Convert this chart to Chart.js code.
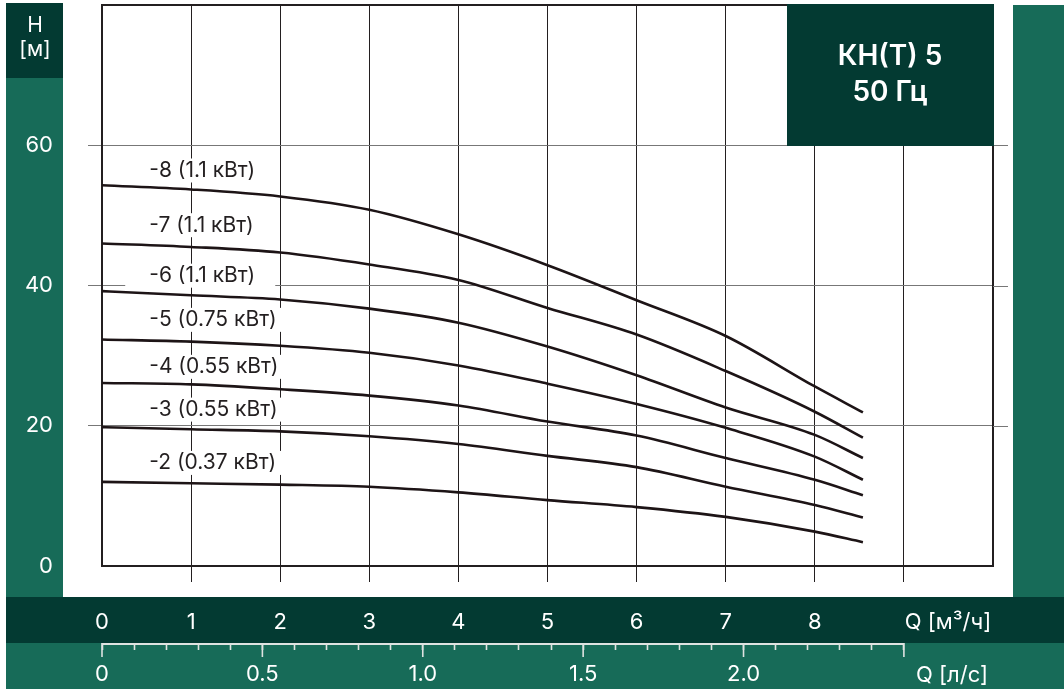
<!DOCTYPE html>
<html>
<head>
<meta charset="utf-8">
<script src="https://cdn.jsdelivr.net/npm/chart.js@4.4.1/dist/chart.umd.min.js"></script>
<style>
  html, body { margin: 0; padding: 0; background: #fff; }
  #wrap { width: 1064px; height: 689px; position: relative; }
</style>
</head>
<body>
<div id="wrap"><canvas id="pumpChart"></canvas></div>
<script>
// Q [м³/ч] точки, в которых сняты кривые
const flowM3h = [0, 1, 2, 3, 4, 5, 6, 7, 8, 8.54];

// H [м] для каждой модели
const head8 = [54.3, 53.7, 52.7, 50.8, 47.3, 42.9, 37.9, 32.8, 25.6, 21.9];
const head7 = [46.0, 45.5, 44.7, 43.0, 40.8, 36.8, 33.0, 27.8, 22.0, 18.3];
const head6 = [39.2, 38.6, 38.0, 36.7, 34.7, 31.3, 27.2, 22.6, 18.7, 15.4];
const head5 = [32.3, 32.0, 31.4, 30.4, 28.6, 26.0, 23.1, 19.7, 15.6, 12.3];
const head4 = [26.1, 25.9, 25.2, 24.3, 22.9, 20.6, 18.6, 15.4, 12.3, 10.1];
const head3 = [19.8, 19.5, 19.2, 18.5, 17.4, 15.7, 14.1, 11.3, 8.7, 6.9];
const head2 = [12.0, 11.8, 11.6, 11.3, 10.5, 9.4, 8.4, 7.0, 4.9, 3.4];

const seriesNames = ["-8 (1.1 кВт)", "-7 (1.1 кВт)", "-6 (1.1 кВт)", "-5 (0.75 кВт)",
  "-4 (0.55 кВт)", "-3 (0.55 кВт)", "-2 (0.37 кВт)"];
const seriesHeads = [head8, head7, head6, head5, head4, head3, head2];

// подписи кривых: Q левого края текста и H центра строки
const labelQ = 0.53;
const labelH = [56.4, 48.6, 41.4, 35.1, 28.4, 22.3, 14.7];

// шкала л/с: подписанные значения
const lsLabels = [0, 0.5, 1.0, 1.5, 2.0];
const lsLast = 2.5;

const titleLines = ["КН(Т) 5", "50 Гц"];

const DARK = "#033a32";
const GREEN = "#176b58";
const INK = "#1d1416";
const FONT = "Inter, 'Noto Sans', sans-serif";

const isMult = (v, step) => Math.abs(v / step - Math.round(v / step)) < 1e-6;

// отступы подписей не должны сдвигать поле графика
const noPad = s => {
  s.paddingTop = 0;
  s.paddingBottom = 0;
  s.paddingLeft = 0;
  s.paddingRight = 0;
};

const panels = {
  id: "panels",
  beforeDraw(chart) {
    const c = chart.ctx;
    c.save();
    c.fillStyle = "#fff";
    c.fillRect(0, 0, chart.width, chart.height);
    c.fillStyle = DARK;
    c.fillRect(6, 3, 57, 75);
    c.fillStyle = GREEN;
    c.fillRect(6, 78, 57, 519);
    c.fillRect(1013, 5, 51, 592);
    c.fillStyle = DARK;
    c.fillRect(6, 597, 1058, 46);
    c.fillStyle = GREEN;
    c.fillRect(6, 643, 1058, 46);
    c.fillStyle = "#fff";
    c.font = `21px ${FONT}`;
    c.textAlign = "center";
    c.textBaseline = "middle";
    c.fillText("H", 35, 26);
    c.fillText("[м]", 35, 50);
    c.restore();
  },
  beforeDatasetsDraw(chart) {
    const c = chart.ctx;
    const { x, y } = chart.scales;
    const area = chart.chartArea;
    c.save();
    // рамка поля графика
    c.strokeStyle = "#231f20";
    c.lineWidth = 2;
    c.strokeRect(area.left, area.top, area.right - area.left, area.bottom - area.top);
    // выход горизонтальной сетки вправо
    c.strokeStyle = "#777";
    c.lineWidth = 1;
    [20, 40, 60].forEach(v => {
      const py = Math.round(y.getPixelForValue(v)) + 0.5;
      c.beginPath();
      c.moveTo(area.right, py);
      c.lineTo(area.right + 15, py);
      c.stroke();
    });
    // подписи кривых на белой подложке
    c.font = `21px ${FONT}`;
    c.textAlign = "left";
    c.textBaseline = "middle";
    seriesNames.forEach((name, i) => {
      const px = x.getPixelForValue(labelQ);
      const py = y.getPixelForValue(labelH[i]);
      const w = c.measureText(name).width;
      c.fillStyle = "#fff";
      c.fillRect(px - 24, py - 12, w + 44, 24);
      c.fillStyle = "#231f20";
      c.fillText(name, px, py);
    });
    c.restore();
  },
  afterDraw(chart) {
    const c = chart.ctx;
    const x2 = chart.scales.x2;
    c.save();
    // заголовок
    c.fillStyle = DARK;
    c.fillRect(787, 4, 207, 142);
    c.fillStyle = "#fff";
    c.font = `600 28px ${FONT}`;
    c.textAlign = "center";
    c.textBaseline = "middle";
    c.fillText(titleLines[0], 890, 57);
    c.fillText(titleLines[1], 890, 93);
    // ось л/с
    const top = x2.top;
    const l0 = x2.getPixelForValue(0);
    const l1 = x2.getPixelForValue(lsLast);
    c.strokeStyle = "#dfe3e1";
    c.lineWidth = 2;
    c.beginPath();
    c.moveTo(l0, top + 1);
    c.lineTo(l1, top + 1);
    c.stroke();
    c.lineWidth = 1.6;
    [...lsLabels, lsLast].forEach(v => {
      const px = x2.getPixelForValue(v);
      c.beginPath();
      c.moveTo(px, top);
      c.lineTo(px, top + 14);
      c.stroke();
    });
    // названия осей
    c.fillStyle = "#fff";
    c.font = `22px ${FONT}`;
    c.fillText("Q [м³/ч]", 948, 622);
    c.fillText("Q [л/с]", 952, 675);
    c.restore();
  }
};

const datasets = seriesHeads.map((heads, i) => ({
  label: seriesNames[i],
  data: flowM3h.map((q, j) => ({ x: q, y: heads[j] })),
  borderColor: INK,
  borderWidth: 2.6,
  pointRadius: 0,
  fill: false,
  cubicInterpolationMode: "monotone"
}));

const clear = "rgba(0,0,0,0)";

new Chart(document.getElementById("pumpChart"), {
  type: "line",
  data: { datasets },
  options: {
    responsive: true,
    maintainAspectRatio: false,
    animation: false,
    events: [],
    layout: { padding: { left: 0, right: 71, top: 5, bottom: 0 } },
    plugins: { legend: { display: false }, tooltip: { enabled: false } },
    scales: {
      x: {
        type: "linear",
        position: "bottom",
        weight: 0,
        min: 0,
        max: 10,
        afterFit: s => { s.height = 77; noPad(s); },
        border: { display: false },
        grid: {
          color: ctx => (ctx.tick && ctx.tick.value === 0 ? clear : "#231f20"),
          lineWidth: 1,
          tickLength: 16
        },
        ticks: {
          stepSize: 1,
          autoSkip: false,
          maxRotation: 0,
          padding: 27,
          color: "#fff",
          font: { family: FONT, size: 22 },
          callback: v => (v === 10 ? null : v <= 8 ? String(v) : "")
        }
      },
      x2: {
        type: "linear",
        position: "bottom",
        weight: 1,
        min: 0,
        max: 10 / 3.6,
        afterFit: s => { s.height = 46; noPad(s); },
        border: { display: false },
        grid: {
          drawOnChartArea: false,
          tickLength: 7,
          tickWidth: 1.6,
          color: "#dfe3e1",
          tickColor: ctx => (ctx.tick && ctx.tick.value > lsLast + 1e-6 ? clear : "#dfe3e1")
        },
        ticks: {
          stepSize: 0.1,
          autoSkip: false,
          maxRotation: 0,
          padding: 11,
          color: "#fff",
          font: { family: FONT, size: 22 },
          callback: v => {
            if (v > lsLast + 1e-6 && !isMult(v, 0.1)) return null;
            if (!lsLabels.some(l => Math.abs(l - v) < 1e-6)) return "";
            return v === 0 ? "0" : v.toFixed(1);
          }
        }
      },
      y: {
        type: "linear",
        position: "left",
        min: 0,
        max: 80,
        afterFit: s => { s.width = 102; noPad(s); },
        border: { display: false },
        grid: {
          color: ctx => (ctx.tick && ctx.tick.value === 0 ? clear : "#777"),
          lineWidth: 1,
          tickLength: 14
        },
        ticks: {
          stepSize: 20,
          crossAlign: "near",
          padding: 35,
          color: "#fff",
          font: { family: FONT, size: 22 },
          callback: v => (v === 80 ? null : String(v))
        }
      }
    }
  },
  plugins: [panels]
});
</script>
</body>
</html>
